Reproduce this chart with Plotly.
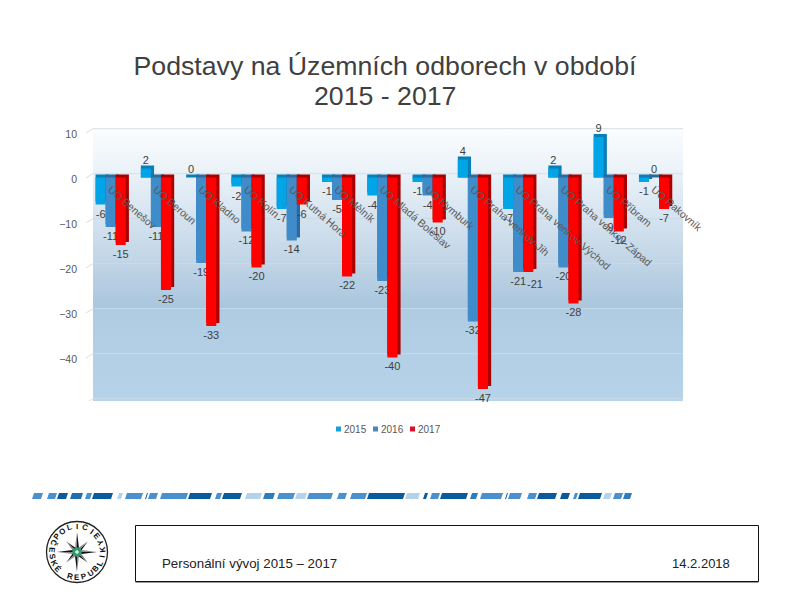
import base64, math
import plotly.graph_objects as go

categories = ["ÚO Benešov", "ÚO Beroun", "ÚO Kladno", "ÚO Kolín", "ÚO Kutná Hora", "ÚO Mělník",
              "ÚO Mladá Boleslav", "ÚO Nymburk", "ÚO Praha-venkov-Jih", "ÚO Praha venkov-Východ",
              "ÚO Praha venkov-Západ", "ÚO Příbram", "ÚO Rakovník"]
v2015 = [-6, 2, 0, -2, -7, -1, -4, -1, 4, -7, 2, 9, -1]
v2016 = [-11, -11, -19, -12, -14, -5, -23, -4, -32, -21, -20, -9, 0]
v2017 = [-15, -25, -33, -20, -6, -22, -40, -10, -47, -21, -28, -12, -7]
y_ticks = [10, 0, -10, -20, -30, -40, -50]
series_names = ["2015", "2016", "2017"]
series_values = [v2015, v2016, v2017]
front_colors = ["#00a5e8", "#3f8ccb", "#ff0000"]
side_colors = ["#0a7fb5", "#2a6a9e", "#a80000"]
legend_colors = ["#1a9fd6", "#4a88b8", "#d8102a"]

W, H = 800, 600
def px(x): return x / W
def py(y): return 1 - y / H

BAR_W = 0.222
DEPTH_W = 0.07   # side face, in axis units
DEPTH_Y = 0.67   # top face, in axis units
MOVED_LABEL = (2, 9)   # series, category: label set beside its neighbour, as in the reference
x_pos = list(range(len(categories)))

fig = go.Figure()
for i, (name, vals) in enumerate(zip(series_names, series_values)):
    off = (i - 1.5) * BAR_W
    labels = ["" if (i, k) == MOVED_LABEL else str(v) for k, v in enumerate(vals)]
    fig.add_trace(go.Bar(
        x=x_pos, y=[v + DEPTH_Y if v >= 0 else v for v in vals],
        base=[0 if v >= 0 else DEPTH_Y for v in vals],
        width=BAR_W + DEPTH_W, offset=off, marker=dict(color=side_colors[i], line_width=0),
        showlegend=False, hoverinfo="skip"))
    fig.add_trace(go.Bar(
        x=x_pos, y=vals, name=name, width=BAR_W, offset=off,
        marker=dict(color=front_colors[i], line_width=0),
        text=labels, textposition="outside", constraintext="none", cliponaxis=False,
        textfont=dict(family="Liberation Sans", size=11, color="#404040"), showlegend=False))

shapes, annots, images = [], [], []

ms, mk = MOVED_LABEL
annots.append(dict(text=str(series_values[ms][mk]), x=mk + (ms - 1) * BAR_W, y=series_values[ms][mk],
                   xref="x", yref="y", xshift=7, yshift=-12, showarrow=False, xanchor="center", yanchor="middle",
                   font=dict(family="Liberation Sans", size=11, color="#404040")))

# back wall
svg = ('<svg xmlns="http://www.w3.org/2000/svg" width="590" height="273" preserveAspectRatio="none">'
       '<defs><linearGradient id="g" x1="0" y1="0" x2="0" y2="1">'
       '<stop offset="0" stop-color="#fbfdfe"/><stop offset="0.17" stop-color="#e9f1f8"/>'
       '<stop offset="0.33" stop-color="#d5e3ef"/><stop offset="0.5" stop-color="#bfd4e6"/>'
       '<stop offset="0.66" stop-color="#a9c6dd"/><stop offset="0.67" stop-color="#b0cce2"/>'
       '<stop offset="1" stop-color="#b6d3ea"/></linearGradient></defs>'
       '<rect width="590" height="273" fill="url(#g)"/></svg>')
images.append(dict(source="data:image/svg+xml;base64," + base64.b64encode(svg.encode()).decode(),
                   xref="paper", yref="paper", x=px(93), y=py(128), sizex=590 / W, sizey=273 / H,
                   xanchor="left", yanchor="top", sizing="stretch", layer="below"))

# wall gridlines sit behind the bars, slightly above the front plane
for t in y_ticks:
    col = "#d9dfe4" if t >= 0 else "#c9dcea"
    shapes.append(dict(type="line", xref="paper", yref="y", x0=px(93), x1=px(683),
                       y0=t + 0.85, y1=t + 0.85, line=dict(color=col, width=1), layer="below"))
    shapes.append(dict(type="line", xref="paper", yref="y", x0=px(86), x1=px(93),
                       y0=t - 0.1, y1=t + 0.85, line=dict(color="#dddddd", width=1), layer="below"))

# legend
for name, col, x0 in zip(series_names, legend_colors, [336, 373, 410]):
    shapes.append(dict(type="rect", xref="paper", yref="paper", x0=px(x0), x1=px(x0 + 5),
                       y0=py(431.5), y1=py(426.5), fillcolor=col, line_width=0))
    annots.append(dict(text=name, x=px(x0 + 6), y=py(429), xref="paper", yref="paper", xanchor="left",
                       yanchor="middle", showarrow=False,
                       font=dict(family="Liberation Sans", size=10, color="#595959")))

# decorative stripe
P, M, D = "#b4d2ea", "#4a90cf", "#0a5a9e"
stripe = [(30, 32, D), (32, 43, M), (47, 57, M), (57, 68, D), (70, 83, "#1f6fb0"), (85, 92, M), (92, 113, D),
          (117, 123, P), (125, 143, M), (145, 148, D), (148, 158, M), (160, 188, M), (188, 212, D), (215, 222, M),
          (222, 242, D), (245, 262, P), (263, 275, "#2f7cbd"), (277, 295, M), (295, 307, P), (307, 333, M),
          (335, 337, D), (337, 347, M), (350, 367, M), (367, 405, D), (405, 420, P), (423, 428, D), (430, 440, M),
          (440, 468, D), (470, 478, "#2f7cbd"), (480, 503, M), (505, 508, D), (508, 522, M), (527, 537, M),
          (537, 557, D), (560, 570, D), (573, 578, M), (578, 602, D), (603, 612, P), (613, 623, M), (623, 632, "#2f7cbd")]
for a, b, c in stripe:
    path = f"M{px(a)},{py(499)} L{px(b - 2)},{py(499)} L{px(b)},{py(493)} L{px(a + 2)},{py(493)} Z"
    shapes.append(dict(type="path", xref="paper", yref="paper", path=path, fillcolor=c, line_width=0))

# footer box
shapes.append(dict(type="rect", xref="paper", yref="paper", x0=px(135.5), x1=px(758.5), y0=py(581.5), y1=py(525.5),
                   line=dict(color="#111111", width=1)))
shapes.append(dict(type="line", xref="paper", yref="paper", x0=px(135.5), x1=px(758.5), y0=py(582.5), y1=py(582.5),
                   line=dict(color="#999999", width=1)))
annots.append(dict(text="Personální vývoj 2015 – 2017", x=px(160), y=py(563), xref="paper", yref="paper",
                   xanchor="left", yanchor="middle", showarrow=False,
                   font=dict(family="Liberation Sans", size=13.3, color="#222222")))
annots.append(dict(text="14.2.2018", x=px(732), y=py(563), xref="paper", yref="paper",
                   xanchor="right", yanchor="middle", showarrow=False,
                   font=dict(family="Liberation Sans", size=13, color="#222222")))
annots.append(dict(text="2015 - 2017", x=px(385), y=py(96), xref="paper", yref="paper",
                   xanchor="center", yanchor="middle", showarrow=False,
                   font=dict(family="Liberation Sans", size=26.7, color="#404040")))

# police emblem
CX, CY = 77, 552
def polar(r, deg):
    a = math.radians(deg)
    return CX + r * math.sin(a), CY - r * math.cos(a)
def poly(points, color):
    d = "M" + " L".join(f"{px(x)},{py(y)}" for x, y in points) + " Z"
    shapes.append(dict(type="path", xref="paper", yref="paper", path=d, fillcolor=color, line_width=0))
shapes.append(dict(type="circle", xref="paper", yref="paper", x0=px(CX - 30.5), x1=px(CX + 30.5),
                   y0=py(CY + 30.5), y1=py(CY - 30.5), line=dict(color="#222222", width=1.3)))
for k in range(8):
    ang = k * 45
    r = 20 if k % 2 == 0 else 15
    poly([polar(0, 0), polar(r, ang), polar(5, ang + 22.5)], "#111111")
    poly([polar(0, 0), polar(r, ang), polar(5, ang - 22.5)], "#8a8a8a")
poly([polar(5, d * 45 + 22.5) for d in range(8)], "#2e9a6c")
poly([polar(2.2, d * 90) for d in range(4)], "#d6efe3")

def letter(ch, theta, upper):
    x, y = polar(25.5, theta)
    annots.append(dict(text=ch, x=px(x), y=py(y), xref="paper", yref="paper", xanchor="center", yanchor="middle",
                       showarrow=False, textangle=theta if upper else theta - 180,
                       font=dict(family="Liberation Sans", size=8, color="#111111", weight="bold")))
top = "POLICIE"
for i, ch in enumerate(top):
    letter(ch, -52 + i * 104 / (len(top) - 1), True)
low = "ČESKÉ REPUBLIKY"
for i, ch in enumerate(low):
    if ch != " ":
        letter(ch, 291 - i * 223 / (len(low) - 1), False)

fig.update_layout(
    width=W, height=H, autosize=False, margin=dict(l=0, r=0, t=0, b=0, autoexpand=False),
    paper_bgcolor="white", plot_bgcolor="rgba(0,0,0,0)",
    barmode="overlay", showlegend=False,
    title=dict(text="Podstavy na Územních odborech v období", x=385 / W, xanchor="center",
               y=py(66), yanchor="middle", font=dict(family="Liberation Sans", size=26.7, color="#404040")),
    xaxis=dict(domain=[px(93), px(683)], range=[-0.39, 12.64], tickvals=x_pos, ticktext=categories,
               tickangle=41, anchor="free", position=py(177.5), showgrid=False, zeroline=False, ticks="",
               showline=False, ticklabelstandoff=3, ticklabelshift=0, automargin=False,
               tickfont=dict(family="Liberation Sans", size=10.5, color="#595959")),
    yaxis=dict(domain=[py(401), py(128)], range=[-49.67, 11], tickvals=y_ticks, showgrid=False, zeroline=False,
               ticks="", showline=False, ticklabelstandoff=15, ticklabelshift=2, automargin=False,
               tickfont=dict(family="Liberation Sans", size=10.5, color="#595959")),
    shapes=shapes, annotations=annots, images=images,
)
fig.write_html("out.html", config={"displayModeBar": False, "responsive": False},
               default_width="800px", default_height="600px",
               post_script="document.body.style.margin='0';document.body.style.overflow='hidden';")
